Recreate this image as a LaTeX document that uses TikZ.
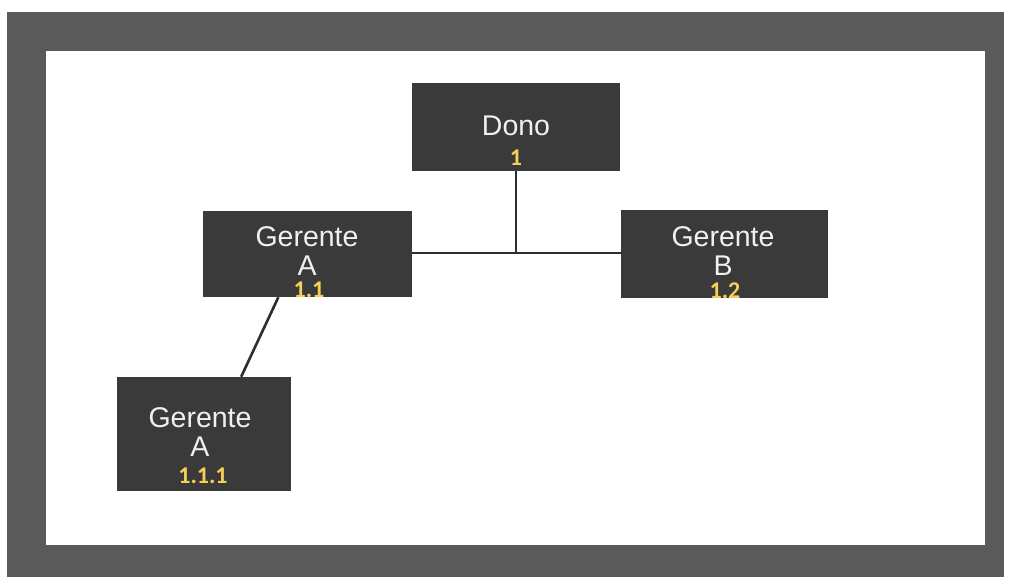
\documentclass[tikz,border=0pt]{standalone}
\usepackage{fontspec}
\setmainfont{Liberation Sans}
\newfontfamily\numfont{Carlito}
\definecolor{framegray}{HTML}{5A5A5A}
\definecolor{boxfill}{HTML}{3A3A3A}
\definecolor{numyellow}{HTML}{F5CF56}
\definecolor{linecol}{HTML}{2E2E2E}
\tikzset{
  orgbox/.style={draw=none, fill=boxfill, rectangle, inner sep=0pt},
  lbl/.style={text=white!94!black, font=\fontsize{28.5}{30}\selectfont, inner sep=0pt},
  num/.style={text=numyellow, font=\numfont\bfseries\fontsize{24}{26}\selectfont, inner sep=0pt},
  conn/.style={draw=linecol, line width=2.6pt}
}
\begin{document}
\begin{tikzpicture}[x=1pt,y=-1pt]
\useasboundingbox (0,0) rectangle (1011,577);
\fill[white] (0,0) rectangle (1011,577);
\fill[framegray] (7,12) rectangle (1004,577);
\fill[white] (46,51) rectangle (985,545);

\node[orgbox, minimum width=208pt, minimum height=88pt] (dono) at (516,127) {};
\node[orgbox, minimum width=209pt, minimum height=86pt] (ga) at (307.5,254) {};
\node[orgbox, minimum width=207pt, minimum height=88pt] (gb) at (724.5,254) {};
\node[orgbox, minimum width=174pt, minimum height=114pt] (gaa) at (204,434) {};

\node[lbl] (t1) at (516,126) {Dono};
\node[num] (n1) at (516,158) {1};

\node[lbl] (t2) at (307,237) {Gerente};
\node[lbl] (t2b) at (307,266) {A};
\node[num] (n2) at (309,290) {1.1};

\node[lbl] (t3) at (723,237) {Gerente};
\node[lbl] (t3b) at (723,266) {B};
\node[num] (n3) at (725,291) {1.2};

\node[lbl] (t4) at (200,418) {Gerente};
\node[lbl] (t4b) at (200,447) {A};
\node[num] (n4) at (203,476) {1.1.1};

\coordinate (jn) at (516,253);
\draw[conn] (dono.south) -- (jn);
\draw[conn] (ga.east |- jn) -- (gb.west |- jn);
\draw[conn] (ga.236.5) -- (gaa.57);
\end{tikzpicture}
\end{document}
